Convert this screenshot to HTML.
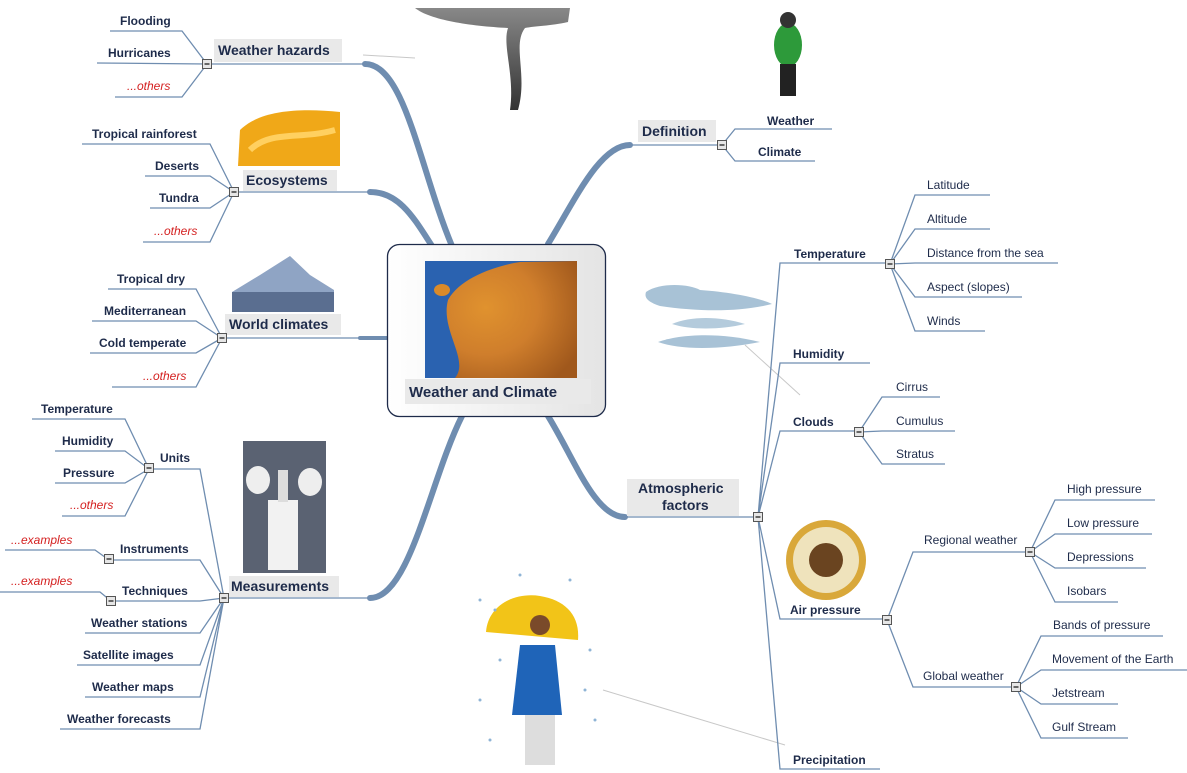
<!DOCTYPE html>
<html><head><meta charset="utf-8"><style>
body{margin:0;background:#fff;width:1187px;height:773px;overflow:hidden}
svg{display:block;font-family:"Liberation Sans",Arial,sans-serif}
.l{stroke:#6f8db0;stroke-width:1.3;fill:none}
.m{stroke:#6f8db0;fill:none;stroke-linecap:round}
.t{fill:#1e2b4a;font-size:12px}
.b{fill:#1e2b4a;font-size:12px;font-weight:bold}
.o{fill:#d42020;font-size:12px;font-style:italic}
.h{fill:#1e2b4a;font-size:14px;font-weight:bold}
.bg{fill:#e9e9e9}
.g{stroke:#c8c8c8;stroke-width:1;fill:none}
</style></head><body>
<svg width="1187" height="773" viewBox="0 0 1187 773">
<defs>
<symbol id="tg" viewBox="0 0 10 10"><rect x="0.5" y="0.5" width="9" height="9" fill="#e6e6e6" stroke="#555"/><line x1="2.5" y1="5" x2="7.5" y2="5" stroke="#222" stroke-width="1.3"/></symbol>
<linearGradient id="cb" x1="0" x2="1"><stop offset="0" stop-color="#fff"/><stop offset="1" stop-color="#e4e4e4"/></linearGradient>
<radialGradient id="map" cx="0.3" cy="0.4" r="0.8"><stop offset="0" stop-color="#e0922e"/><stop offset="0.5" stop-color="#cf7e2c"/><stop offset="1" stop-color="#a0581c"/></radialGradient>
<linearGradient id="tor" x1="0" y1="0" x2="0" y2="1"><stop offset="0" stop-color="#888"/><stop offset="1" stop-color="#333"/></linearGradient>
</defs>
<path class="g" d="M363 55 L415 58"/>
<path class="g" d="M745 345 L800 395"/>
<path class="g" d="M603 690 L785 745"/>

<path class="m" stroke-width="6" d="M452 246 C420 170 405 64 365 64"/>
<path class="l" d="M365 64 L207 64"/>
<path class="m" stroke-width="6" d="M432 246 C415 220 400 192 370 192"/>
<path class="l" d="M370 192 L234 192"/>
<path class="m" stroke-width="4" d="M388 338 L360 338"/>
<path class="l" d="M360 338 L222 338"/>
<path class="m" stroke-width="6" d="M462 416 C430 480 410 598 370 598"/>
<path class="l" d="M370 598 L224 598"/>
<path class="m" stroke-width="6" d="M548 244 C575 200 600 145 630 145"/>
<path class="l" d="M630 145 L722 145"/>
<path class="m" stroke-width="6" d="M548 416 C575 460 595 517 625 517"/>
<path class="l" d="M625 517 L758 517"/>

<rect x="387.5" y="244.5" width="218" height="172" rx="12" fill="url(#cb)" stroke="#1e2b4a" stroke-width="1.3"/>
<rect x="425" y="261" width="152" height="117" fill="#2a62b0"/>
<path d="M448 300 C460 278 495 266 520 262 L577 261 L577 378 L455 378 C470 360 440 330 448 300Z" fill="url(#map)"/>
<ellipse cx="442" cy="290" rx="8" ry="6" fill="#d98a2a"/>
<rect x="405" y="379" width="186" height="25" class="bg"/>
<text x="409" y="397" class="h" style="font-size:15px">Weather and Climate</text>

<rect x="214" y="39" width="128" height="23" class="bg"/><text x="218" y="55" class="h">Weather hazards</text>
<path class="l" d="M207 64 L182 31 L110 31 M207 64 L97 63 M207 64 L182 97 L115 97"/>
<text x="120" y="25" class="b">Flooding</text><text x="108" y="57" class="b">Hurricanes</text><text x="127" y="90" class="o">...others</text>
<use href="#tg" x="202" y="59" width="10" height="10"/>

<path d="M240 130 C260 110 300 108 340 112 L340 166 L238 166Z" fill="#f0a818"/>
<path d="M250 150 C270 130 300 140 335 130" stroke="#ffd060" stroke-width="6" fill="none"/>
<rect x="243" y="170" width="94" height="21" class="bg"/><text x="246" y="185" class="h">Ecosystems</text>
<path class="l" d="M234 192 L210 144 L82 144 M234 192 L210 176 L145 176 M234 192 L210 208 L150 208 M234 192 L210 242 L143 242"/>
<text x="92" y="138" class="b">Tropical rainforest</text><text x="155" y="170" class="b">Deserts</text><text x="159" y="202" class="b">Tundra</text><text x="154" y="235" class="o">...others</text>
<use href="#tg" x="229" y="187" width="10" height="10"/>

<path d="M232 292 L260 275 L290 256 L310 275 L334 290 L334 312 L232 312Z" fill="#8fa4c4"/>
<path d="M232 292 L334 292 L334 312 L232 312Z" fill="#5a6e90"/>
<rect x="225" y="314" width="116" height="21" class="bg"/><text x="229" y="329" class="h">World climates</text>
<path class="l" d="M222 338 L196 289 L108 289 M222 338 L196 321 L92 321 M222 338 L196 353 L90 353 M222 338 L196 387 L112 387"/>
<text x="117" y="283" class="b">Tropical dry</text><text x="104" y="315" class="b">Mediterranean</text><text x="99" y="347" class="b">Cold temperate</text><text x="143" y="380" class="o">...others</text>
<use href="#tg" x="217" y="333" width="10" height="10"/>

<rect x="243" y="441" width="83" height="132" fill="#5a6272"/>
<rect x="268" y="500" width="30" height="70" fill="#f2f2f2"/>
<ellipse cx="258" cy="480" rx="12" ry="14" fill="#eee"/><ellipse cx="310" cy="482" rx="12" ry="14" fill="#eee"/><rect x="278" y="470" width="10" height="32" fill="#ddd"/>
<rect x="229" y="576" width="110" height="21" class="bg"/><text x="231" y="591" class="h">Measurements</text>
<path class="l" d="M224 598 L200 469 L150 469 M224 598 L200 560 L112 560 M224 598 L200 601 L115 601 M224 598 L200 633 L85 633 M224 598 L200 665 L77 665 M224 598 L200 697 L85 697 M224 598 L200 729 L60 729"/>
<text x="160" y="462" class="b">Units</text><text x="120" y="553" class="b">Instruments</text><text x="122" y="595" class="b">Techniques</text><text x="91" y="627" class="b">Weather stations</text><text x="83" y="659" class="b">Satellite images</text><text x="92" y="691" class="b">Weather maps</text><text x="67" y="723" class="b">Weather forecasts</text>
<path class="l" d="M149 469 L125 419 L32 419 M149 469 L125 451 L55 451 M149 469 L125 483 L55 483 M149 469 L125 516 L62 516"/>
<text x="41" y="413" class="b">Temperature</text><text x="62" y="445" class="b">Humidity</text><text x="63" y="477" class="b">Pressure</text><text x="70" y="509" class="o">...others</text>
<path class="l" d="M109 560 L95 550 L5 550 M111 601 L100 592 L0 592"/>
<text x="11" y="544" class="o">...examples</text><text x="11" y="585" class="o">...examples</text>
<use href="#tg" x="144" y="463" width="10" height="10"/>
<use href="#tg" x="104" y="554" width="10" height="10"/>
<use href="#tg" x="106" y="596" width="10" height="10"/>
<use href="#tg" x="219" y="593" width="10" height="10"/>

<path d="M415 8 L570 8 L568 22 C550 26 535 26 525 28 C512 45 528 75 518 110 L510 110 C515 75 502 45 508 28 C470 26 430 20 415 8Z" fill="url(#tor)"/>

<ellipse cx="788" cy="45" rx="14" ry="22" fill="#2d9a3a"/><circle cx="788" cy="20" r="8" fill="#333"/><rect x="780" y="64" width="16" height="32" fill="#222"/>

<rect x="638" y="120" width="78" height="22" class="bg"/><text x="642" y="136" class="h">Definition</text>
<path class="l" d="M722 145 L735 129 L832 129 M722 145 L735 161 L815 161"/>
<text x="767" y="125" class="b">Weather</text><text x="758" y="156" class="b">Climate</text>
<use href="#tg" x="717" y="140" width="10" height="10"/>

<rect x="627" y="479" width="112" height="37" class="bg"/>
<text x="638" y="493" class="h">Atmospheric</text><text x="662" y="510" class="h">factors</text>
<path class="l" d="M758 517 L780 263 L890 263 M758 517 L780 363 L870 363 M758 517 L780 431 L859 431 M758 517 L780 619 L887 619 M758 517 L780 769 L880 769"/>
<text x="794" y="258" class="b">Temperature</text><text x="793" y="358" class="b">Humidity</text><text x="793" y="426" class="b">Clouds</text><text x="790" y="614" class="b">Air pressure</text><text x="793" y="764" class="b">Precipitation</text>
<use href="#tg" x="753" y="512" width="10" height="10"/>
<path class="l" d="M890 264 L915 195 L990 195 M890 264 L915 229 L990 229 M890 264 L915 263 L1058 263 M890 264 L915 297 L1022 297 M890 264 L915 331 L985 331"/>
<text x="927" y="189" class="t">Latitude</text><text x="927" y="223" class="t">Altitude</text><text x="927" y="257" class="t">Distance from the sea</text><text x="927" y="291" class="t">Aspect (slopes)</text><text x="927" y="325" class="t">Winds</text>
<use href="#tg" x="885" y="259" width="10" height="10"/>
<path class="l" d="M859 432 L882 397 L940 397 M859 432 L882 431 L955 431 M859 432 L882 464 L945 464"/>
<text x="896" y="391" class="t">Cirrus</text><text x="896" y="425" class="t">Cumulus</text><text x="896" y="458" class="t">Stratus</text>
<use href="#tg" x="854" y="427" width="10" height="10"/>
<path d="M646 292 C660 282 690 284 700 290 C730 292 760 298 772 304 C740 312 700 312 660 306 C648 302 644 298 646 292Z" fill="#a8c2d6"/>
<path d="M672 324 C690 316 720 316 745 324 C720 330 690 330 672 324Z" fill="#b4cbdc"/>
<path d="M658 342 C680 334 720 332 760 342 C720 350 680 350 658 342Z" fill="#a8c2d6"/>
<circle cx="826" cy="560" r="40" fill="#d9a83a"/><circle cx="826" cy="560" r="33" fill="#efe3bc"/><circle cx="826" cy="560" r="17" fill="#6a4420"/>
<path class="l" d="M887 620 L913 552 L1030 552 M887 620 L913 687 L1016 687"/>
<text x="924" y="544" class="t">Regional weather</text><text x="923" y="680" class="t">Global weather</text>
<use href="#tg" x="882" y="615" width="10" height="10"/>
<path class="l" d="M1030 552 L1055 500 L1155 500 M1030 552 L1055 534 L1152 534 M1030 552 L1055 568 L1146 568 M1030 552 L1055 602 L1118 602"/>
<text x="1067" y="493" class="t">High pressure</text><text x="1067" y="527" class="t">Low pressure</text><text x="1067" y="561" class="t">Depressions</text><text x="1067" y="595" class="t">Isobars</text>
<use href="#tg" x="1025" y="547" width="10" height="10"/>
<path class="l" d="M1016 687 L1041 636 L1163 636 M1016 687 L1041 670 L1187 670 M1016 687 L1041 704 L1118 704 M1016 687 L1041 738 L1128 738"/>
<text x="1053" y="629" class="t">Bands of pressure</text><text x="1052" y="663" class="t">Movement of the Earth</text><text x="1052" y="697" class="t">Jetstream</text><text x="1052" y="731" class="t">Gulf Stream</text>
<use href="#tg" x="1011" y="682" width="10" height="10"/>

<path d="M486 632 C488 605 515 592 540 596 C565 600 580 615 578 640 Z" fill="#f2c418"/>
<circle cx="540" cy="625" r="10" fill="#7a4a2a"/>
<path d="M520 645 L555 645 L562 715 L512 715Z" fill="#1f64b8"/><rect x="525" y="715" width="30" height="50" fill="#ddd"/>
<g fill="#8fb4d6"><circle cx="480" cy="600" r="1.5"/><circle cx="500" cy="660" r="1.5"/><circle cx="590" cy="650" r="1.5"/><circle cx="480" cy="700" r="1.5"/><circle cx="595" cy="720" r="1.5"/><circle cx="490" cy="740" r="1.5"/><circle cx="570" cy="580" r="1.5"/><circle cx="520" cy="575" r="1.5"/><circle cx="585" cy="690" r="1.5"/><circle cx="495" cy="610" r="1.5"/></g>
</svg>
</body></html>
